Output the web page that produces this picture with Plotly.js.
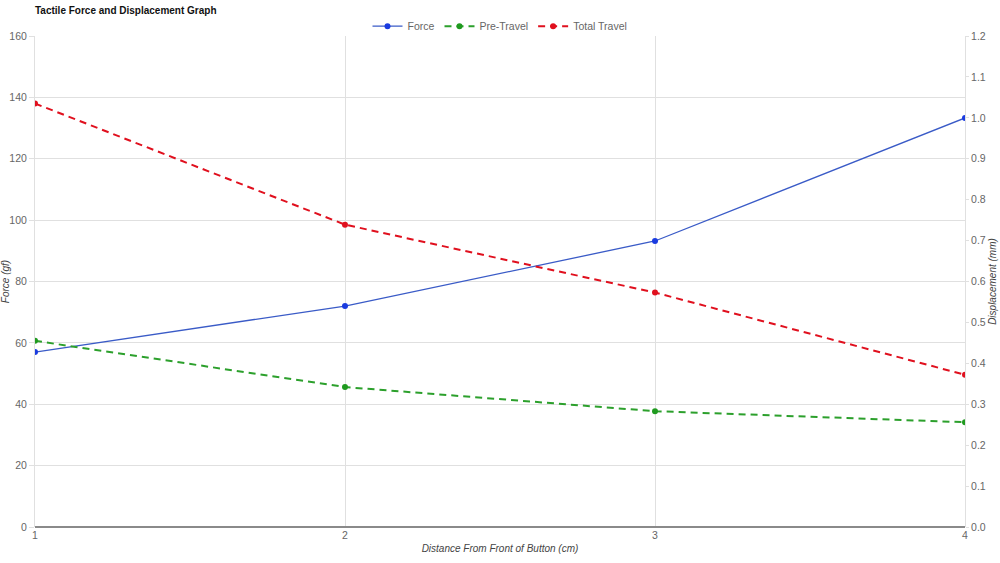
<!DOCTYPE html>
<html>
<head>
<meta charset="utf-8">
<script src="https://cdn.plot.ly/plotly-3.0.1.min.js"></script>
<style>
  html, body { margin: 0; padding: 0; background: #fff; }
  #chart { width: 1000px; height: 563px; }
</style>
</head>
<body>
<div id="chart"></div>
<script>
const distances = [1, 2, 3, 4]
const force = [57, 72, 93.2, 133.3]
const preTravel = [0.455, 0.342, 0.283, 0.256]
const totalTravel = [1.035, 0.739, 0.573, 0.372]

const fam = 'Liberation Sans, Arial, sans-serif'
const gridColor = '#e0e0e0'
const tickFont = { family: fam, size: 10.5, color: '#666' }
const axisTitleFont = { family: fam, size: 10, color: '#444', style: 'italic' }

const data = [
  {
    x: distances, y: force, name: 'Force', yaxis: 'y',
    mode: 'lines+markers',
    line: { color: '#3a5bc7', width: 1.3 },
    marker: { color: '#1a3be0', size: 6 },
  },
  {
    x: distances, y: preTravel, name: 'Pre-Travel', yaxis: 'y2',
    mode: 'lines+markers',
    line: { color: '#2ca02c', width: 2, dash: '7px,5px' },
    marker: { color: '#1f9a1f', size: 6 },
  },
  {
    x: distances, y: totalTravel, name: 'Total Travel', yaxis: 'y2',
    mode: 'lines+markers',
    line: { color: '#e0101e', width: 2, dash: '7px,5px' },
    marker: { color: '#e0101e', size: 6 },
  },
]

const layout = {
  width: 1000,
  height: 563,
  paper_bgcolor: '#fff',
  plot_bgcolor: '#fff',
  margin: { l: 35, r: 35, t: 34, b: 36 },
  font: { family: fam, color: '#666' },
  title: {
    text: '<b>Tactile Force and Displacement Graph</b>',
    font: { family: fam, size: 10, color: '#111' },
    x: 0.035, xanchor: 'left', y: 0.982, yanchor: 'middle',
  },
  showlegend: true,
  legend: {
    orientation: 'h', x: 0.5, xanchor: 'center', y: 1.02, yanchor: 'middle',
    font: { family: fam, size: 10.5, color: '#666' },
    itemwidth: 30,
  },
  xaxis: {
    range: [1, 4],
    tickvals: distances,
    showgrid: true, gridcolor: gridColor,
    zeroline: false,
    showline: false,
    ticks: '',
    tickfont: tickFont,
    title: { text: 'Distance From Front of Button (cm)', font: axisTitleFont, standoff: 5 },
  },
  yaxis: {
    range: [0, 160], dtick: 20,
    showgrid: true, gridcolor: gridColor,
    zeroline: true, zerolinecolor: '#8a8a8a', zerolinewidth: 2,
    showline: true, linecolor: gridColor,
    ticks: 'outside', ticklen: 5, tickcolor: gridColor,
    tickfont: tickFont,
    title: { text: 'Force (gf)', font: axisTitleFont, standoff: 6 },
  },
  yaxis2: {
    range: [0, 1.2], dtick: 0.1, tickformat: '.1f',
    overlaying: 'y', side: 'right',
    showgrid: false, zeroline: false,
    showline: true, linecolor: gridColor,
    ticks: 'outside', ticklen: 3, tickcolor: gridColor,
    tickfont: tickFont,
    title: { text: 'Displacement (mm)', font: axisTitleFont, standoff: 4 },
  },
}

Plotly.newPlot('chart', data, layout, { displayModeBar: false, responsive: false })
</script>
</body>
</html>
